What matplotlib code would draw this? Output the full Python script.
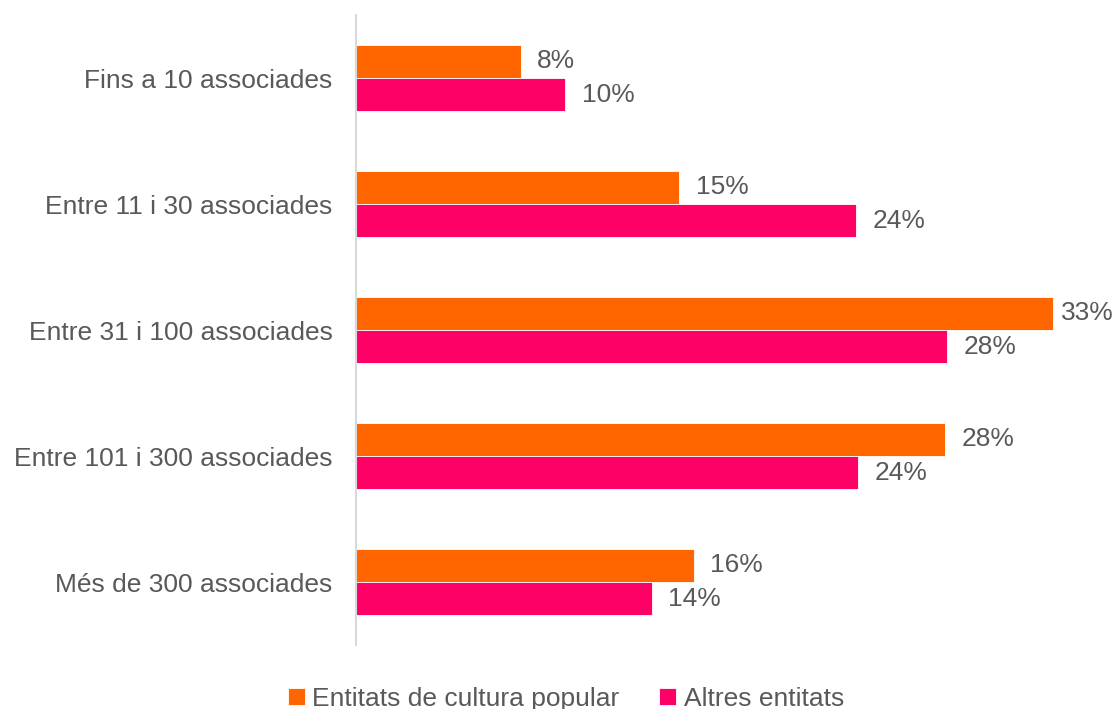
import matplotlib
matplotlib.use("Agg")
import matplotlib.pyplot as plt
import numpy as np

plt.rcParams['font.family'] = ['Liberation Sans', 'DejaVu Sans']

categories = ["Fins a 10 associades", "Entre 11 i 30 associades", "Entre 31 i 100 associades",
              "Entre 101 i 300 associades", "Més de 300 associades"]
cultura = [7.8, 15.3, 33.0, 27.9, 16.0]
altres = [9.9, 23.7, 28.0, 23.8, 14.0]
series_names = ["Entitats de cultura popular", "Altres entitats"]
colors = ["#FF6600", "#FF0066"]
text_color = "#595959"
fs = 19

fig = plt.figure(figsize=(11.2, 7.09), dpi=100)
ax = fig.add_axes([356/1120, 64/709, 760/1120, 630/709])

y = np.arange(len(categories))
h = 0.262
b1 = ax.barh(y - h/2, cultura, height=h, color=colors[0], edgecolor="white", linewidth=0.6, label=series_names[0])
b2 = ax.barh(y + h/2, altres, height=h, color=colors[1], edgecolor="white", linewidth=0.6, label=series_names[1])

labels = []
for bars, vals in ((b1, cultura), (b2, altres)):
    for rect, v in zip(bars, vals):
        t = ax.annotate(f"{round(v):d}%", (rect.get_width(), rect.get_y() + rect.get_height()/2),
                        xytext=(12, 0), textcoords="offset points", ha="left", va="center",
                        fontsize=fs, color=text_color)
        labels.append(t)

ax.set_xlim(0, 36)
ax.set_ylim(len(categories) - 0.5, -0.5)
ax.set_yticks(y)
ax.set_yticklabels(categories, fontsize=fs, color=text_color)
ax.tick_params(axis='y', length=0, pad=17)
ax.set_xticks([])
for s in ("top", "right", "bottom"):
    ax.spines[s].set_visible(False)
ax.spines["left"].set_color("#D9D9D9")
ax.spines["left"].set_linewidth(1.5)

leg = fig.legend(handles=[b1, b2], labels=series_names, loc="center", bbox_to_anchor=(566/1120, 10/709),
                 ncol=2, frameon=False, fontsize=fs, handlelength=0.62, handleheight=0.62,
                 handletextpad=0.3, columnspacing=1.5)
for t in leg.get_texts():
    t.set_color(text_color)

# keep data labels inside the figure (pull back labels that would overflow)
fig.canvas.draw()
renderer = fig.canvas.get_renderer()
limit = 1114
for t in labels:
    bb = t.get_window_extent(renderer)
    if bb.x1 > limit:
        dx_pts = (bb.x1 - limit) * 72 / fig.dpi
        t.xyann = (t.xyann[0] - dx_pts, t.xyann[1])

fig.savefig("out.png", dpi=100)
